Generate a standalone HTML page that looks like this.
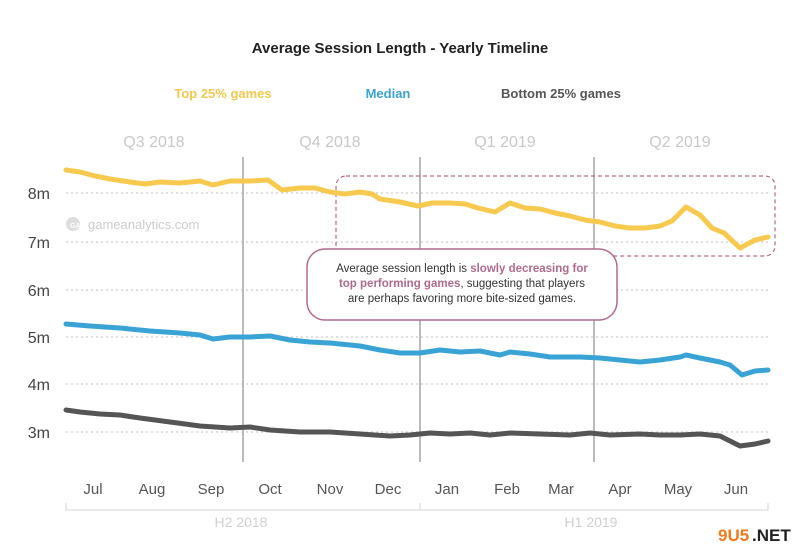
<!DOCTYPE html>
<html><head><meta charset="utf-8"><style>
body{margin:0;background:#fff;width:800px;height:556px;overflow:hidden}
svg{display:block;font-family:"Liberation Sans",sans-serif}
</style></head><body>
<svg width="800" height="556" viewBox="0 0 800 556">
<text x="400" y="53" text-anchor="middle" font-size="15" font-weight="bold" fill="#222">Average Session Length - Yearly Timeline</text>
<text x="223" y="98" text-anchor="middle" font-size="13" font-weight="bold" fill="#f2c94c">Top 25% games</text>
<text x="388" y="98" text-anchor="middle" font-size="13" font-weight="bold" fill="#3aa3d0">Median</text>
<text x="561" y="98" text-anchor="middle" font-size="13" font-weight="bold" fill="#555">Bottom 25% games</text>
<g font-size="16" fill="#c8c8c8" text-anchor="middle">
<text x="154" y="147">Q3 2018</text><text x="330" y="147">Q4 2018</text><text x="505" y="147">Q1 2019</text><text x="680" y="147">Q2 2019</text></g>
<g stroke="#ccc" stroke-width="1.2" stroke-dasharray="2,3">
<line x1="66" y1="193" x2="768" y2="193"/><line x1="66" y1="242" x2="768" y2="242"/><line x1="66" y1="290" x2="768" y2="290"/><line x1="66" y1="337" x2="768" y2="337"/><line x1="66" y1="384" x2="768" y2="384"/><line x1="66" y1="432" x2="768" y2="432"/></g>
<g font-size="16" fill="#444" text-anchor="end">
<text x="50" y="199">8m</text><text x="50" y="248">7m</text><text x="50" y="296">6m</text><text x="50" y="343">5m</text><text x="50" y="390">4m</text><text x="50" y="438">3m</text></g>
<g stroke="#bbb" stroke-width="2"><line x1="243" y1="157" x2="243" y2="462"/><line x1="420" y1="157" x2="420" y2="462"/><line x1="594" y1="157" x2="594" y2="462"/></g>
<circle cx="73" cy="224" r="7" fill="#ddd"/><text x="70" y="228" font-size="7" fill="#fff" font-weight="bold">GA</text>
<text x="88" y="229" font-size="13" fill="#ccc">gameanalytics.com</text>
<rect x="336" y="176" width="439" height="80" rx="10" fill="none" stroke="#b06a8e" stroke-width="1.2" stroke-dasharray="4,3"/>
<g fill="none" stroke-width="5" stroke-linejoin="round" stroke-linecap="round">
<polyline stroke="#f7c94e" points="66,170 80,172 95,176 110,179 130,182 145,184 160,182 180,183 200,181 213,185 230,181 250,181 268,180 282,190 300,188 315,188 330,192 345,194 360,192 372,194 380,199 400,202 418,206 432,203 450,203 465,204 478,208 495,212 510,203 525,208 540,209 555,213 570,216 585,220 600,222 615,226 630,228 645,228 660,226 672,221 686,207 700,215 712,228 724,233 740,248 755,240 768,237"/>
<polyline stroke="#3aa3d6" points="66,324 90,326 120,328 150,331 180,333 200,335 213,339 230,337 250,337 270,336 290,340 310,342 330,343 360,346 380,350 400,353 420,353 440,350 460,352 480,351 500,355 510,352 530,354 550,357 580,357 600,358 620,360 640,362 660,360 680,357 686,355 700,358 720,362 730,365 742,375 755,371 768,370"/>
<polyline stroke="#555" points="66,410 80,412 100,414 120,415 140,418 170,422 200,426 230,428 250,427 270,430 300,432 330,432 360,434 390,436 410,435 430,433 450,434 470,433 490,435 510,433 540,434 570,435 590,433 610,435 640,434 660,435 680,435 700,434 720,436 740,446 755,444 768,441"/>
</g>
<rect x="307" y="249" width="310" height="71" rx="18" fill="#fff" stroke="#b06a8e" stroke-width="1.5"/>
<g font-size="11.5" text-anchor="middle" fill="#333">
<text x="462" y="272">Average session length is <tspan fill="#b06a8e" font-weight="bold">slowly decreasing for</tspan></text>
<text x="462" y="287"><tspan fill="#b06a8e" font-weight="bold">top performing games</tspan>, suggesting that players</text>
<text x="462" y="302">are perhaps favoring more bite-sized games.</text></g>
<g font-size="15" fill="#555" text-anchor="middle">
<text x="93" y="494">Jul</text><text x="152" y="494">Aug</text><text x="211" y="494">Sep</text><text x="270" y="494">Oct</text><text x="330" y="494">Nov</text><text x="388" y="494">Dec</text><text x="447" y="494">Jan</text><text x="507" y="494">Feb</text><text x="561" y="494">Mar</text><text x="620" y="494">Apr</text><text x="678" y="494">May</text><text x="736" y="494">Jun</text></g>
<g stroke="#ddd" stroke-width="1.2" fill="none"><polyline points="66,503 66,510 768,510 768,503"/><line x1="420" y1="503" x2="420" y2="510"/></g>
<g font-size="14" fill="#d0d0d0" text-anchor="middle"><text x="241" y="527">H2 2018</text><text x="591" y="527">H1 2019</text></g>
<text x="718" y="541" font-size="17" font-weight="bold" fill="#f07a1a">9U5</text><text x="752" y="541" font-size="17" font-weight="bold" fill="#222">.NET</text>
</svg>
</body></html>
